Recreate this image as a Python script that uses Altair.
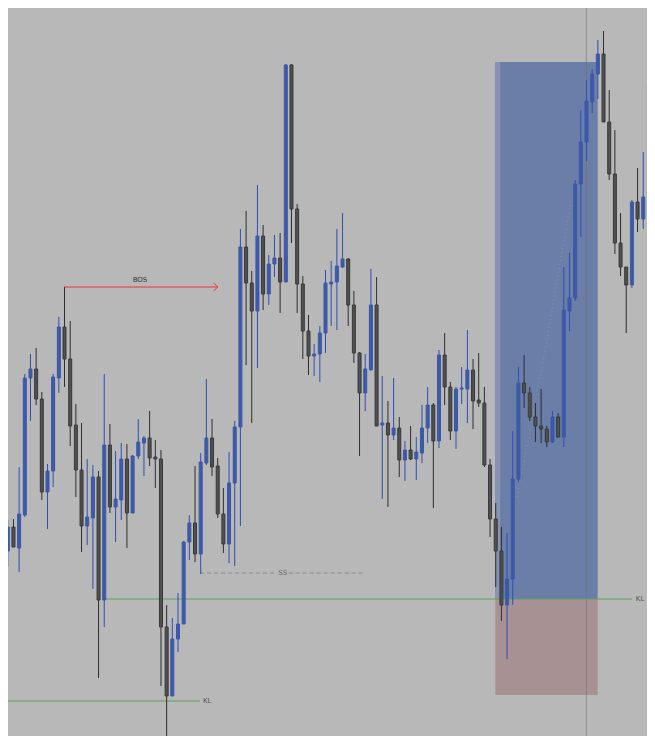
import altair as alt
import pandas as pd

# ---- candle data (price units) ----
opens = [193, 217, 196, 229, 366, 375, 345, 252, 273, 366,
         417, 385, 319, 274, 218, 226, 267, 144, 299, 237,
         244, 285, 231, 288, 301, 306, 287, 285, 117, 48,
         105, 120, 202, 221, 190, 281, 306, 278, 230, 200,
         261, 317, 497, 461, 433, 508, 450, 480, 486, 462,
         679, 535, 460, 413, 388, 390, 411, 460, 462, 477,
         485, 439, 391, 351, 374, 439, 319, 321, 309, 316,
         284, 294, 285, 291, 316, 339, 303, 389, 357, 313,
         355, 355, 374, 344, 341, 279, 225, 193, 139, 165,
         265, 361, 351, 327, 318, 315, 302, 327, 307, 433,
         446, 560, 602, 642, 670, 690, 622, 570, 501, 477,
         459, 542, 525, 546]
highs = [224, 225, 277, 370, 390, 396, 352, 280, 370, 427,
         457, 423, 340, 321, 285, 279, 273, 370, 320, 293,
         301, 300, 289, 325, 308, 333, 304, 294, 139, 126,
         151, 203, 229, 278, 291, 365, 325, 286, 256, 292,
         323, 515, 533, 473, 559, 519, 489, 509, 511, 680,
         680, 540, 468, 429, 400, 418, 474, 483, 515, 531,
         486, 453, 392, 390, 475, 467, 368, 343, 366, 327,
         303, 318, 307, 339, 357, 341, 394, 411, 362, 357,
         377, 414, 385, 391, 357, 285, 241, 217, 211, 313,
         377, 389, 357, 341, 355, 318, 333, 331, 477, 491,
         564, 634, 664, 675, 704, 713, 654, 614, 531, 477,
         544, 576, 592, 660]
lows = [178, 197, 172, 227, 323, 339, 244, 215, 257, 351,
        357, 298, 247, 192, 199, 155, 66, 117, 231, 202,
        224, 196, 231, 285, 268, 278, 256, 58, 6, 48,
        92, 120, 184, 182, 170, 279, 268, 226, 191, 181,
        178, 218, 379, 321, 376, 434, 439, 467, 431, 462,
        501, 431, 385, 369, 368, 362, 391, 418, 414, 476,
        418, 381, 288, 333, 374, 318, 245, 237, 304, 267,
        263, 284, 264, 281, 301, 236, 296, 339, 304, 295,
        340, 321, 315, 337, 277, 207, 157, 123, 85, 139,
        262, 336, 323, 302, 301, 297, 301, 306, 297, 413,
        443, 507, 583, 631, 645, 622, 564, 490, 468, 411,
        456, 512, 515, 542]
closes = [217, 197, 230, 366, 375, 345, 252, 273, 367, 417,
          385, 318, 274, 218, 227, 267, 144, 299, 237, 245,
          285, 231, 288, 302, 306, 286, 285, 117, 48, 105,
          120, 202, 221, 190, 282, 306, 277, 230, 200, 261,
          317, 497, 461, 433, 508, 450, 480, 486, 462, 679,
          535, 460, 413, 388, 390, 411, 461, 462, 478, 485,
          439, 391, 351, 375, 439, 318, 321, 309, 316, 284,
          294, 285, 292, 316, 339, 303, 389, 357, 313, 355,
          356, 374, 343, 341, 279, 225, 193, 139, 165, 265,
          361, 351, 327, 318, 315, 302, 327, 307, 434, 446,
          560, 602, 643, 670, 690, 622, 570, 501, 477, 459,
          542, 525, 547, 658]

# ---- annotation data ----
zone_x1 = [86.93, 86.93, 86.93]
zone_x2 = [104.97, 87.8, 104.97]
zone_y1 = [145, 145, 49]
zone_y2 = [682, 682, 145]
zone_col = ["#6b7ea8", "#8594b4", "#a89193"]

line_x1 = [17.88, 0.5, 10.94, 37.3, 37.3]
line_x2 = [111.05, 34.88, 38.0, 38.0, 38.0]
line_y1 = [145, 43, 457, 461, 453]
line_y2 = [145, 43, 457, 457, 457]
line_col = ["#5f9f5f", "#5f9f5f", "#f0303a", "#f0303a", "#f0303a"]

ss_x1 = [34.88, 50.5]
ss_x2 = [48.42, 63.86]
ss_y = [171, 171]

label_x = [111.7, 35.4, 24.3, 49.46]
label_y = [145, 43, 464, 171]
label_txt = ["KL", "KL", "BOS", "SS"]
label_col = ["#555555", "#555555", "#333333", "#666666"]
label_align = ["left", "left", "center", "center"]

dot_x = [90.75, 95.95, 98.2, 100.3]
dot_y = [247, 401, 477, 544]

cross_x = [102.98]

# ---- tables ----
df = pd.DataFrame({"i": list(range(1, len(opens) + 1)), "open": opens,
                   "high": highs, "low": lows, "close": closes})
zones = pd.DataFrame({"x": zone_x1, "x2": zone_x2, "y": zone_y1, "y2": zone_y2, "c": zone_col})
lines = pd.DataFrame({"x": line_x1, "x2": line_x2, "y": line_y1, "y2": line_y2, "c": line_col})
ss = pd.DataFrame({"x": ss_x1, "x2": ss_x2, "y": ss_y})
labels = pd.DataFrame({"x": label_x, "y": label_y, "t": label_txt, "c": label_col, "a": label_align})
dots = pd.DataFrame({"x": dot_x, "y": dot_y})
cross = pd.DataFrame({"x": cross_x})

xsc = alt.Scale(domain=[1.92, 112.78], nice=False, zero=False)
ysc = alt.Scale(domain=[8, 736], nice=False, zero=False)

def X(f):
    return alt.X(f, type="quantitative", scale=xsc, axis=None)

def Y(f):
    return alt.Y(f, type="quantitative", scale=ysc, axis=None)

up = alt.datum.close >= alt.datum.open

zone_layer = alt.Chart(zones).mark_rect(clip=True).encode(
    x=X("x"), x2="x2", y=Y("y"), y2="y2", color=alt.Color("c:N", scale=None))

cross_layer = alt.Chart(cross).mark_rule(color="#6f6f6f", strokeWidth=1, opacity=0.55).encode(
    x=X("x"))

dot_layer = alt.Chart(dots).mark_line(color="#9a9a9a", strokeDash=[1, 3], strokeWidth=1,
                                       opacity=0.7, clip=True).encode(
    x=X("x"), y=Y("y"))

wicks = alt.Chart(df).mark_rule(strokeWidth=1, clip=True).encode(
    x=X("i"), y=Y("low"), y2="high",
    color=alt.condition(up, alt.value("#2f4fb2"), alt.value("#2e2e2e")))

bodies = alt.Chart(df).mark_bar(size=3, strokeWidth=1, clip=True).encode(
    x=X("i"), y=Y("open"), y2="close",
    fill=alt.condition(up, alt.value("#3d5aa8"), alt.value("#505050")),
    stroke=alt.condition(up, alt.value("#3b58a8"), alt.value("#383838")))

line_layer = alt.Chart(lines).mark_rule(strokeWidth=1, clip=True).encode(
    x=X("x"), x2="x2", y=Y("y"), y2="y2", color=alt.Color("c:N", scale=None))

ss_layer = alt.Chart(ss).mark_rule(strokeWidth=1, strokeDash=[4, 3], color="#8a8a8a").encode(
    x=X("x"), x2="x2", y=Y("y"))

text_left = alt.Chart(labels[labels.a == "left"]).mark_text(
    align="left", baseline="middle", fontSize=7, font="DejaVu Sans").encode(
    x=X("x"), y=Y("y"), text="t:N", color=alt.Color("c:N", scale=None))
text_center = alt.Chart(labels[labels.a == "center"]).mark_text(
    align="center", baseline="middle", fontSize=7, font="DejaVu Sans").encode(
    x=X("x"), y=Y("y"), text="t:N", color=alt.Color("c:N", scale=None))

chart = alt.layer(zone_layer, cross_layer, dot_layer, line_layer, ss_layer, wicks, bodies,
                  text_left, text_center).properties(
    width=639, height=728, padding=0, autosize=alt.AutoSizeParams(type="none"),
    background="#b8b8b8"
).configure_view(stroke=None)

chart.save("out.html", embed_options={"renderer": "svg", "actions": False})
